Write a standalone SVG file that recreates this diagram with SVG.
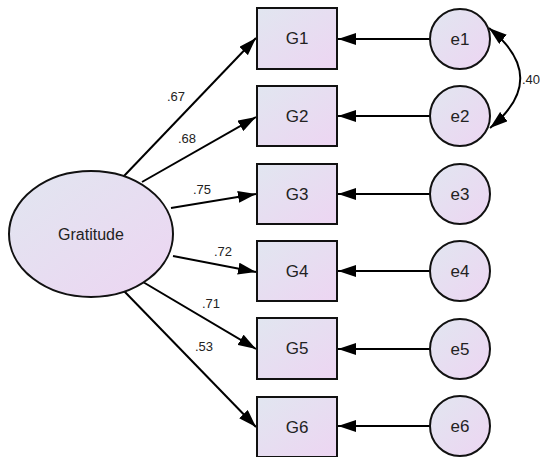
<svg xmlns="http://www.w3.org/2000/svg" width="540" height="457" viewBox="0 0 540 457">
<defs>
<linearGradient id="fill" x1="0" y1="0" x2="1" y2="1">
<stop offset="0" stop-color="#e1e6f0"/>
<stop offset="1" stop-color="#edd5f2"/>
</linearGradient>
<marker id="ah" markerUnits="userSpaceOnUse" viewBox="0 0 18 12" refX="18" refY="6" markerWidth="18" markerHeight="12" orient="auto-start-reverse">
<path d="M0,0 L18,6 L0,12 z" fill="#000"/>
</marker>
<style>
.shape{fill:url(#fill);stroke:#111;stroke-width:2}
.lbl{font-family:"Liberation Sans",Arial,sans-serif;font-size:17px;fill:#222;text-anchor:middle;dominant-baseline:central}
.coef{font-family:"Liberation Sans",Arial,sans-serif;font-size:13px;fill:#222;text-anchor:middle}
.ln{stroke:#000;stroke-width:2;fill:none;marker-end:url(#ah)}
</style>
</defs>
<rect width="540" height="457" fill="#fff"/>
<g id="connectors">
<line class="ln" x1="124" y1="176" x2="256" y2="38"/>
<line class="ln" x1="142" y1="182" x2="256" y2="117"/>
<line class="ln" x1="171" y1="208" x2="256" y2="194"/>
<line class="ln" x1="173" y1="256" x2="256" y2="272"/>
<line class="ln" x1="143" y1="282" x2="256" y2="349"/>
<line class="ln" x1="124" y1="291" x2="256" y2="427"/>
<line class="ln" x1="430" y1="39" x2="338" y2="39"/>
<line class="ln" x1="430" y1="116" x2="338" y2="116"/>
<line class="ln" x1="430" y1="194" x2="338" y2="194"/>
<line class="ln" x1="430" y1="271" x2="338" y2="271"/>
<line class="ln" x1="430" y1="349" x2="338" y2="349"/>
<line class="ln" x1="430" y1="426" x2="338" y2="426"/>
<path class="ln" d="M489,28 Q551,78 490,128" marker-start="url(#ah)"/>
<text class="coef" x="176" y="101">.67</text>
<text class="coef" x="187" y="143">.68</text>
<text class="coef" x="202" y="194">.75</text>
<text class="coef" x="223" y="256">.72</text>
<text class="coef" x="211" y="308">.71</text>
<text class="coef" x="204" y="351">.53</text>
<text class="coef" x="522" y="84" style="text-anchor:start">.40</text>
</g>
<g id="Gratitude">
<ellipse class="shape" cx="91" cy="234" rx="82" ry="63"/>
<text class="lbl" x="91" y="234" style="font-size:16px">Gratitude</text>
</g>
<g id="G1"><rect class="shape" x="257" y="8" width="80" height="61"/><text class="lbl" x="297" y="38.5">G1</text></g>
<g id="G2"><rect class="shape" x="257" y="86" width="80" height="60"/><text class="lbl" x="297" y="116">G2</text></g>
<g id="G3"><rect class="shape" x="257" y="164" width="80" height="60"/><text class="lbl" x="297" y="194">G3</text></g>
<g id="G4"><rect class="shape" x="257" y="241" width="80" height="60"/><text class="lbl" x="297" y="271">G4</text></g>
<g id="G5"><rect class="shape" x="257" y="318" width="80" height="61"/><text class="lbl" x="297" y="348.5">G5</text></g>
<g id="G6"><rect class="shape" x="257" y="397" width="80" height="60"/><text class="lbl" x="297" y="427">G6</text></g>
<g id="e1"><circle class="shape" cx="460" cy="39" r="30"/><text class="lbl" x="460" y="39">e1</text></g>
<g id="e2"><circle class="shape" cx="460" cy="116" r="30"/><text class="lbl" x="460" y="116">e2</text></g>
<g id="e3"><circle class="shape" cx="460" cy="194" r="30"/><text class="lbl" x="460" y="194">e3</text></g>
<g id="e4"><circle class="shape" cx="460" cy="271" r="30"/><text class="lbl" x="460" y="271">e4</text></g>
<g id="e5"><circle class="shape" cx="460" cy="349" r="30"/><text class="lbl" x="460" y="349">e5</text></g>
<g id="e6"><circle class="shape" cx="460" cy="426" r="30"/><text class="lbl" x="460" y="426">e6</text></g>
</svg>
